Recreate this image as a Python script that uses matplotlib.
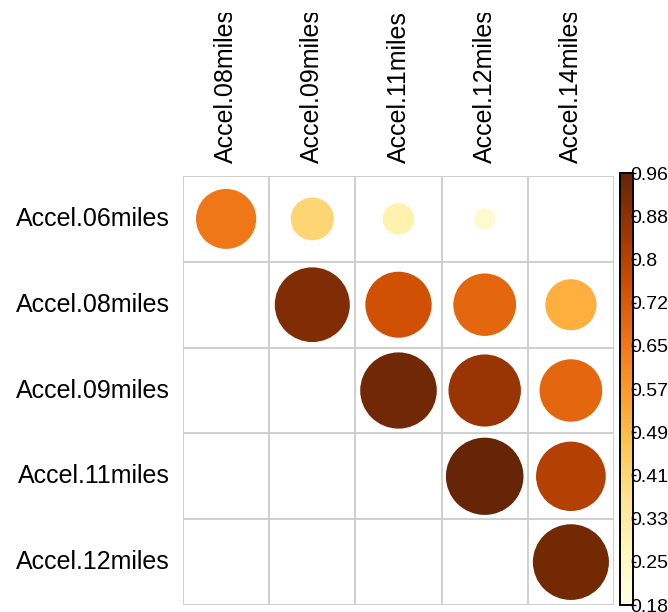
import numpy as np
import matplotlib
matplotlib.use("Agg")
import matplotlib.pyplot as plt
from matplotlib.patches import Circle
from matplotlib.transforms import Bbox
from matplotlib import cm, colors

plt.rcParams['font.family'] = ['Liberation Sans', 'DejaVu Sans']

row_names = ['Accel.06miles', 'Accel.08miles', 'Accel.09miles', 'Accel.11miles', 'Accel.12miles']
col_names = ['Accel.08miles', 'Accel.09miles', 'Accel.11miles', 'Accel.12miles', 'Accel.14miles']

# upper triangle of the correlation matrix (nan = not shown)
row1 = [0.65, 0.42, 0.31, 0.24, 0.18]
row2 = [np.nan, 0.91, 0.75, 0.69, 0.52]
row3 = [np.nan, np.nan, 0.94, 0.86, 0.69]
row4 = [np.nan, np.nan, np.nan, 0.96, 0.81]
row5 = [np.nan, np.nan, np.nan, np.nan, 0.93]

cbar_ticks = [0.18, 0.258, 0.336, 0.414, 0.492, 0.57, 0.648, 0.726, 0.804, 0.882, 0.96]
cbar_labels = ['0.18', '0.25', '0.33', '0.41', '0.49', '0.57', '0.65', '0.72', '0.8', '0.88', '0.96']

corr = np.array([row1, row2, row3, row4, row5])
vmin, vmax = 0.18, 0.96
cmap = plt.get_cmap('YlOrBr')
norm = colors.Normalize(vmin=vmin, vmax=vmax)

W, H = 668, 612
fig = plt.figure(figsize=(W / 100, H / 100), dpi=100)
ax = fig.add_axes([183 / W, 7 / H, 431 / W, 429 / H])
n = len(row_names)
ax.set_xlim(0, n)
ax.set_ylim(0, n)
ax.axis('off')

# grid
for k in range(n + 1):
    ax.plot([k, k], [0, n], color='#cccccc', lw=1.3, solid_capstyle='butt', zorder=1)
    ax.plot([0, n], [k, k], color='#cccccc', lw=1.3, solid_capstyle='butt', zorder=1)

# circles: area grows with the scaled value
for i in range(n):
    for j in range(n):
        v = corr[i, j]
        if np.isnan(v):
            continue
        s = (v - vmin) / (vmax - vmin)
        r = 0.45 * np.sqrt(s)
        if r <= 0:
            r = 0.008
        ax.add_patch(Circle((j + 0.5, n - i - 0.5), r, facecolor=cmap(norm(v)),
                            edgecolor='none', zorder=2))

# row labels
for i, name in enumerate(row_names):
    ax.text(-13 / 86.2, n - i - 0.5, name, ha='right', va='center', fontsize=18)

# column labels, rotated
clip = Bbox.from_extents(0, 0, W, H - 13)
for j, name in enumerate(col_names):
    t = ax.text(j + 0.5, n + 13 / 85.8, name, rotation=90, ha='center', va='bottom',
                fontsize=18)
    t.set_clip_on(True)
    t.set_clip_box(clip)

# colour legend
cax = fig.add_axes([620 / W, 7 / H, 13 / W, 432 / H])
cb = fig.colorbar(cm.ScalarMappable(norm=norm, cmap=cmap), cax=cax)
cb.outline.set_linewidth(1.4)
cb.outline.set_edgecolor('black')
cb.set_ticks(cbar_ticks)
cb.set_ticklabels(cbar_labels)
cax.tick_params(axis='y', length=2.5, width=1, pad=-4.5, labelsize=14, colors='black')

fig.savefig('out.png', dpi=100, facecolor='white')
